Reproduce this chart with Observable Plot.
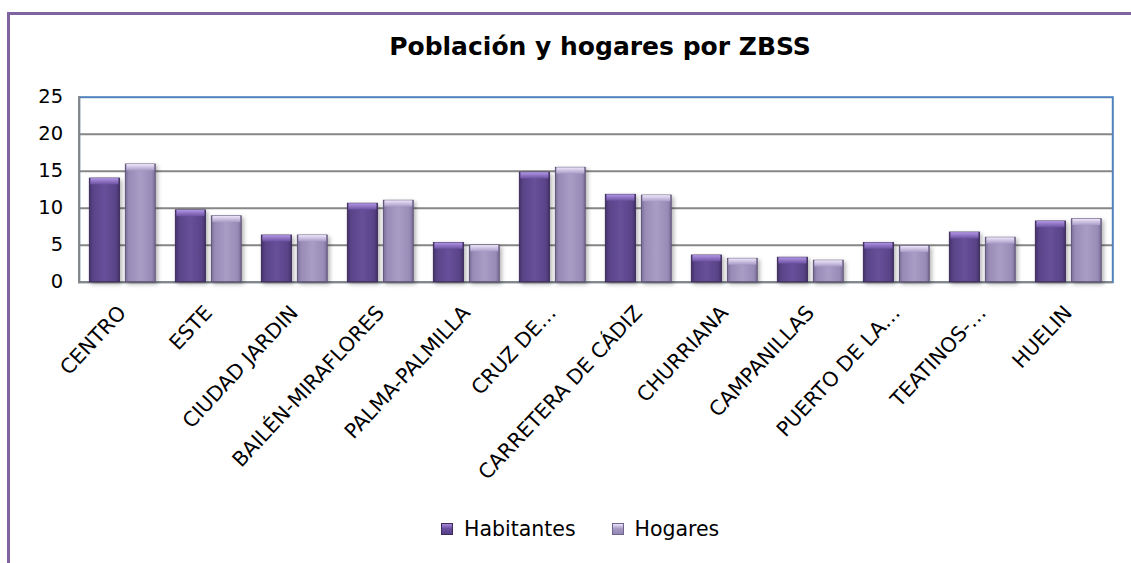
<!DOCTYPE html>
<html>
<head>
<meta charset="utf-8">
<script src="https://cdn.jsdelivr.net/npm/d3@7"></script>
<script src="https://cdn.jsdelivr.net/npm/@observablehq/plot@0.6"></script>
<style>
  html, body { margin: 0; padding: 0; background: #fff; }
  #frame { position: relative; width: 1131px; height: 563px; overflow: hidden; background: #fff; }
  #borderTop { position: absolute; left: 7px; top: 12px; width: 1124px; height: 3px; background: #8064A2; }
  #borderLeft { position: absolute; left: 7px; top: 12px; width: 3px; height: 551px; background: #8064A2; }
  #title { position: absolute; left: 0; width: 1200px; top: 32px; text-align: center;
           font-family: "DejaVu Sans", sans-serif; font-weight: bold; font-size: 25px; color: #000; line-height: 30px; }
  #chart { position: absolute; left: 0; top: 0; }
  #legend { position: absolute; top: 516px; left: 0; width: 1131px; height: 26px;
            font-family: "DejaVu Sans", sans-serif; font-size: 20.5px; color: #000; }
  .item { position: absolute; top: 0; display: flex; align-items: center; height: 26px; }
  .sw { width: 12px; height: 12px; margin-right: 11px; box-sizing: border-box; }
</style>
</head>
<body>
<div id="frame">
  <div id="borderTop"></div>
  <div id="borderLeft"></div>
  <div id="chart"></div>
  <div id="title">Población y hogares por ZBSS</div>
  <div id="legend"></div>
</div>
<script>
// ---- data ----
const zonas = ["CENTRO", "ESTE", "CIUDAD JARDIN", "BAILÉN-MIRAFLORES", "PALMA-PALMILLA", "CRUZ DE…",
               "CARRETERA DE CÁDIZ", "CHURRIANA", "CAMPANILLAS", "PUERTO DE LA…", "TEATINOS-…", "HUELIN"];
const habitantes = [14.0, 9.7, 6.3, 10.6, 5.3, 14.8, 11.8, 3.6, 3.3, 5.3, 6.7, 8.2];
const hogares    = [15.9, 8.9, 6.3, 11.0, 4.95, 15.45, 11.7, 3.15, 2.9, 4.85, 6.0, 8.5];
const series = ["Habitantes", "Hogares"];
const yTicks = [0, 5, 10, 15, 20, 25];
const gridTicks = [5, 10, 15, 20];

const habData = zonas.map((z, i) => ({zona: z, serie: series[0], v: habitantes[i]}));
const hogData = zonas.map((z, i) => ({zona: z, serie: series[1], v: hogares[i]}));

const CAP = 0.85; // height of the bevelled top cap, in y units

const plot = Plot.plot({
  width: 1131,
  height: 563,
  marginLeft: 78.7,
  marginRight: 18.7,
  marginTop: 96.7,
  marginBottom: 281.3,
  style: {fontFamily: "DejaVu Sans, sans-serif", fontSize: "19.5px", color: "#000", background: "transparent", overflow: "visible"},
  x: {domain: zonas, paddingInner: 0, paddingOuter: 0, label: null},
  y: {domain: [0, 25], label: null},
  marks: [
    Plot.frame({stroke: "#4F81BD", strokeWidth: 2}),
    Plot.ruleY(gridTicks, {stroke: "#868686", strokeWidth: 2}),
    Plot.frame({anchor: "left", stroke: "#868686", strokeWidth: 2}),
    Plot.ruleY([0], {stroke: "#868686", strokeWidth: 2}),
    // Habitantes bars
    Plot.barY(habData, {x: "zona", y: "v", fill: "url(#gHab)", stroke: "#3d2c5c", strokeWidth: 1,
                        insetLeft: 10.4, insetRight: 45.6, className: "bars"}),
    Plot.barY(habData, {x: "zona", y1: d => d.v - CAP, y2: "v", fill: "url(#cHab)",
                        insetLeft: 11.4, insetRight: 46.6}),
    // Hogares bars
    Plot.barY(hogData, {x: "zona", y: "v", fill: "url(#gHog)", stroke: "#5e5478", strokeWidth: 1,
                        insetLeft: 46.4, insetRight: 9.8, className: "bars"}),
    Plot.barY(hogData, {x: "zona", y1: d => d.v - CAP, y2: "v", fill: "url(#cHog)",
                        insetLeft: 47.4, insetRight: 10.8}),
    Plot.axisY({ticks: yTicks, tickSize: 0, tickPadding: 16, label: null}),
    Plot.axisX({tickRotate: -47, tickSize: 0, tickPadding: 27, fontSize: 20.5, label: null})
  ]
});

// gradients for the bevelled bar look
const svg = d3.select(plot);
const defs = svg.insert("defs", ":first-child");
function hgrad(id, edge, mid, center) {
  const g = defs.append("linearGradient").attr("id", id).attr("x1", 0).attr("x2", 1).attr("y1", 0).attr("y2", 0);
  g.append("stop").attr("offset", "0%").attr("stop-color", edge);
  g.append("stop").attr("offset", "12%").attr("stop-color", mid);
  g.append("stop").attr("offset", "50%").attr("stop-color", center);
  g.append("stop").attr("offset", "88%").attr("stop-color", mid);
  g.append("stop").attr("offset", "100%").attr("stop-color", edge);
}
function vgrad(id, top, bottom) {
  const g = defs.append("linearGradient").attr("id", id).attr("x1", 0).attr("x2", 0).attr("y1", 0).attr("y2", 1);
  g.append("stop").attr("offset", "0%").attr("stop-color", top);
  g.append("stop").attr("offset", "100%").attr("stop-color", bottom);
}
hgrad("gHab", "#44326a", "#5a4488", "#684f9a");
hgrad("gHog", "#7a6e98", "#988bb6", "#a99dc6");
vgrad("cHab", "#b396e6", "#6d52a2");
vgrad("cHog", "#efe6fb", "#a89cc6");
svg.selectAll(".bars").style("filter", "drop-shadow(2px 2px 2px rgba(0,0,0,0.30))");

document.getElementById("chart").appendChild(plot);

// legend
const legend = document.getElementById("legend");
const legendItems = [
  {label: series[0], left: 441, bg: "linear-gradient(#a88ada 0%, #6a4fa0 45%, #553f85 100%)", border: "#3d2c5c"},
  {label: series[1], left: 611.5, bg: "linear-gradient(#eee5fb 0%, #a89cc6 45%, #9386b2 100%)", border: "#6e6490"}
];
for (const it of legendItems) {
  const d = document.createElement("div");
  d.className = "item";
  d.style.left = it.left + "px";
  const sw = document.createElement("div");
  sw.className = "sw";
  sw.style.background = it.bg;
  sw.style.border = "1px solid " + it.border;
  const t = document.createElement("span");
  t.textContent = it.label;
  d.appendChild(sw);
  d.appendChild(t);
  legend.appendChild(d);
}
</script>
</body>
</html>
